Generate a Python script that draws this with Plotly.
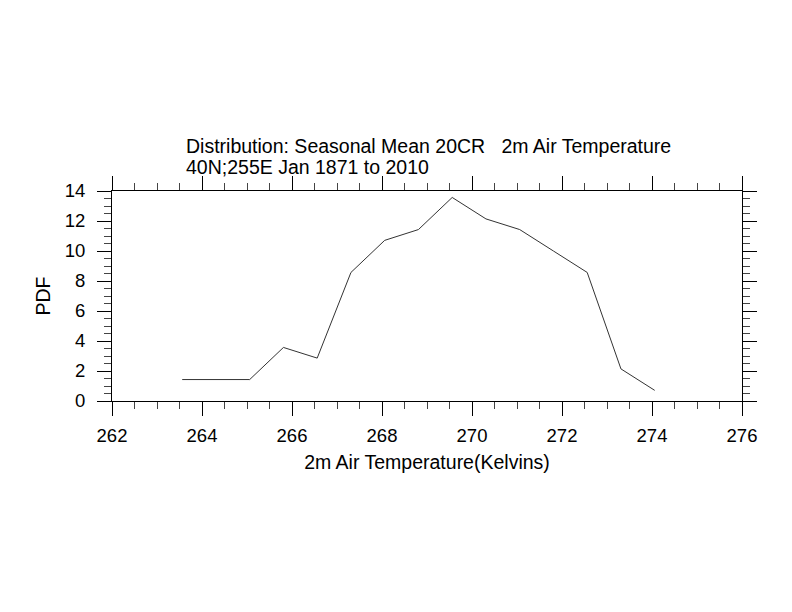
import plotly.graph_objects as go

temps = [263.56, 264.31, 265.06, 265.81, 266.56, 267.31, 268.06, 268.81,
         269.56, 270.31, 271.06, 271.81, 272.56, 273.31, 274.06]
pdf = [1.43, 1.43, 1.43, 3.57, 2.86, 8.57, 10.71, 11.43,
       13.57, 12.14, 11.43, 10.0, 8.57, 2.14, 0.71]

title1 = "Distribution: Seasonal Mean 20CR   2m Air Temperature"
title2 = "40N;255E Jan 1871 to 2010"
xlabel = "2m Air Temperature(Kelvins)"
ylabel = "PDF"

FONT = "Liberation Sans, Arial, Helvetica, sans-serif"
TSIZE = 19.5

fig = go.Figure()
fig.add_trace(go.Scatter(x=temps, y=pdf, mode="lines",
                         line=dict(color="#333333", width=1), showlegend=False))

axis_common = dict(
    showgrid=False, zeroline=False, showline=True, linecolor="black", linewidth=1,
    mirror="ticks", ticks="outside", ticklen=14, tickwidth=1, tickcolor="black",
    tickfont=dict(family=FONT, size=18.5, color="black"),
    minor=dict(ticks="outside", ticklen=7, tickwidth=1, tickcolor="#444444", dtick=0.5),
)

fig.update_xaxes(range=[262, 276], dtick=2, tick0=262,
                 title=dict(text=xlabel, font=dict(family=FONT, size=TSIZE, color="black"), standoff=10),
                 ticklabelstandoff=4, **axis_common)
fig.update_yaxes(range=[0, 14], dtick=2, tick0=0,
                 title=dict(text=ylabel, font=dict(family=FONT, size=TSIZE, color="black"), standoff=8),
                 ticklabelstandoff=8, **axis_common)

fig.add_annotation(text=title1, xref="paper", yref="paper", x=(185 - 112) / 629.7, y=1.214,
                   xanchor="left", yanchor="middle", showarrow=False, borderpad=0,
                   font=dict(family=FONT, size=TSIZE, color="black"))
fig.add_annotation(text=title2, xref="paper", yref="paper", x=(185 - 112) / 629.7, y=1.113,
                   xanchor="left", yanchor="middle", showarrow=False, borderpad=0,
                   font=dict(family=FONT, size=TSIZE, color="black"))

fig.update_layout(width=792, height=612, margin=dict(l=112, r=50, t=191, b=210.5),
                  plot_bgcolor="white", paper_bgcolor="white")

fig.write_html("out.html")
